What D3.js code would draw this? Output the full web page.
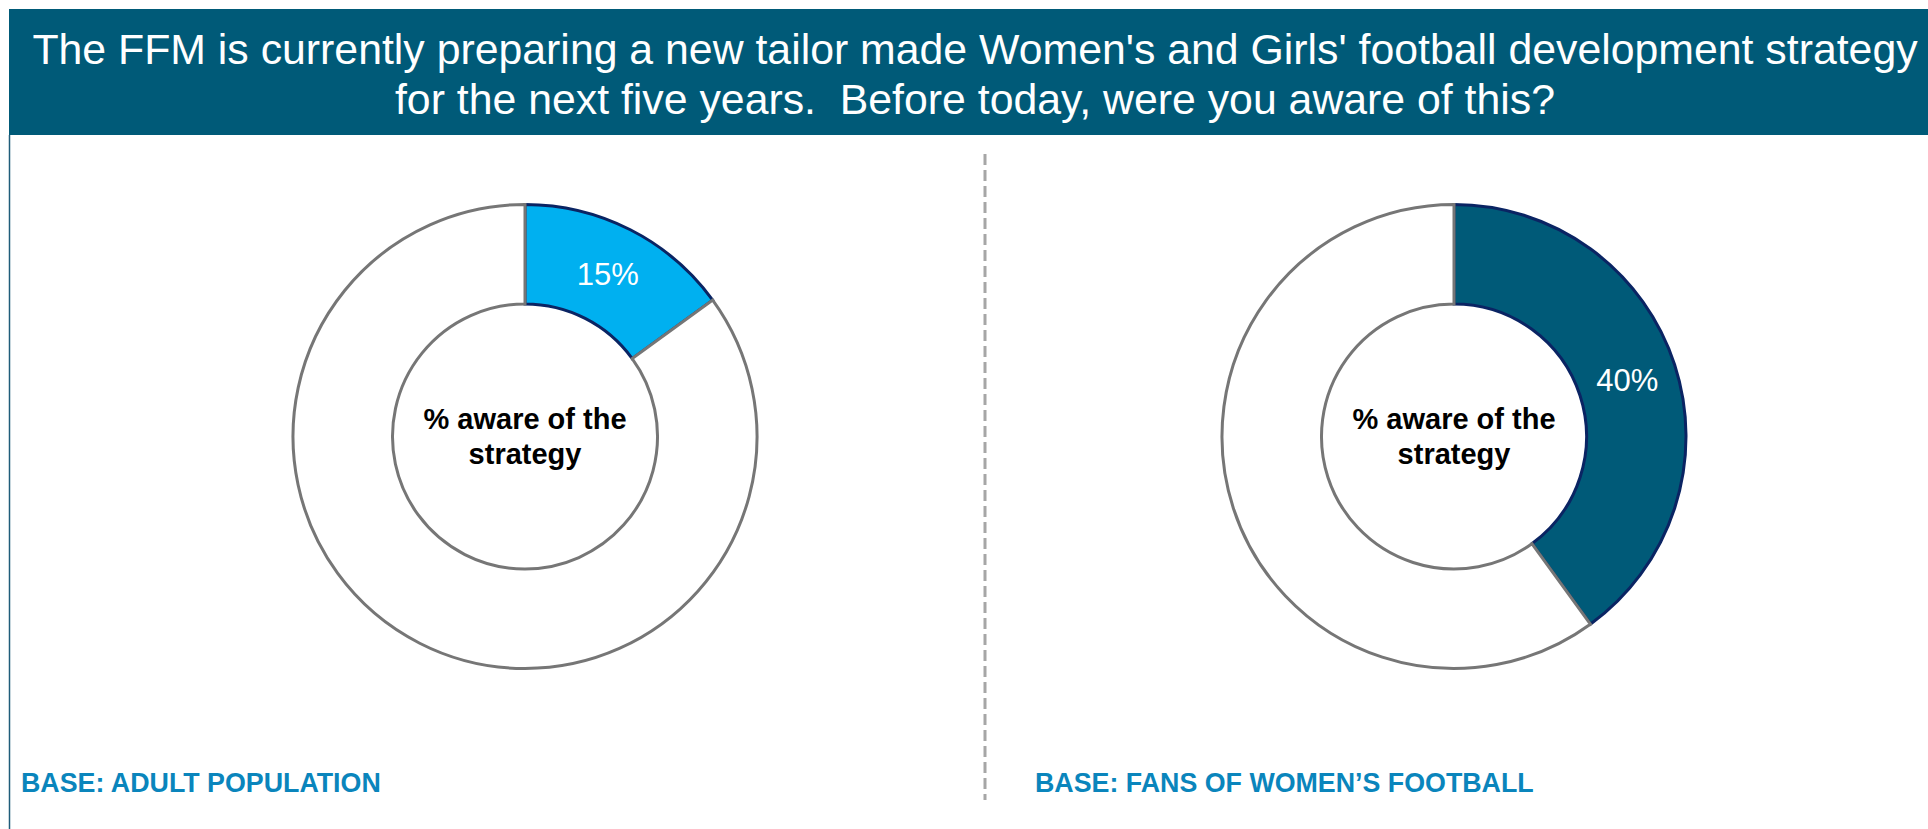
<!DOCTYPE html>
<html>
<head>
<meta charset="utf-8">
<script src="https://cdn.jsdelivr.net/npm/d3@7"></script>
<style>
  html, body { margin: 0; padding: 0; background: #ffffff; }
  svg { display: block; }
  text { font-family: "Liberation Sans", Arial, sans-serif; white-space: pre; }
</style>
</head>
<body>
<svg id="chart" width="1928" height="829"></svg>
<script>
// ---- data ----
const titleLines = [
  "The FFM is currently preparing a new tailor made Women's and Girls' football development strategy",
  "for the next five years.  Before today, were you aware of this?"
];
const panels = ["Adult population", "Fans of women's football"];
const awareValues = [15, 40];
const baseLabels = ["BASE: ADULT POPULATION", "BASE: FANS OF WOMEN\u2019S FOOTBALL"];
const centerLabel = ["% aware of the", "strategy"];
const sliceColors = ["#00B0F0", "#005A78"];

// ---- layout ----
const W = 1928, H = 829;
const svg = d3.select("#chart");
const headerColor = "#005A78";

svg.append("rect").attr("x", 9).attr("y", 9).attr("width", W - 9).attr("height", 126)
  .attr("fill", headerColor);
svg.append("line").attr("x1", 9.5).attr("x2", 9.5).attr("y1", 135).attr("y2", H)
  .attr("stroke", "#1F5C7A").attr("stroke-width", 1.5);

svg.selectAll("text.title").data(titleLines).join("text")
  .attr("class", "title")
  .attr("x", 975).attr("y", (d, i) => 64 + i * 50)
  .attr("text-anchor", "middle").attr("fill", "#ffffff")
  .attr("font-size", 42.8).attr("xml:space", "preserve").text(d => d);

// divider
svg.append("line").attr("x1", 985).attr("x2", 985).attr("y1", 154).attr("y2", 800)
  .attr("stroke", "#A6A6A6").attr("stroke-width", 3).attr("stroke-dasharray", "11,5");

const xCenter = d3.scaleOrdinal().domain(panels).range([525, 1454]);
const cy = 436.5;
const rOuter = 232, rInner = 132.5;
const pie = d3.pie().sort(null).value(d => d.v);
const arc = d3.arc().innerRadius(rInner).outerRadius(rOuter);
const labelArc = d3.arc().innerRadius(rInner).outerRadius(rOuter);

panels.forEach((p, i) => {
  const g = svg.append("g").attr("transform", `translate(${xCenter(p)},${cy})`);
  const data = [{k: "aware", v: awareValues[i]}, {k: "rest", v: 100 - awareValues[i]}];
  const arcs = pie(data);
  // highlighted slice first, then grey slice on top so shared edges are grey
  g.append("path").attr("d", arc(arcs[0]))
    .attr("fill", sliceColors[i]).attr("stroke", "#0A2463").attr("stroke-width", 3);
  g.append("path").attr("d", arc(arcs[1]))
    .attr("fill", "#ffffff").attr("stroke", "#767676").attr("stroke-width", 3)
    .attr("stroke-linejoin", "miter");
  const c = labelArc.centroid(arcs[0]);
  g.append("text").attr("x", c[0]).attr("y", c[1]).attr("dy", "0.36em")
    .attr("text-anchor", "middle").attr("fill", "#ffffff").attr("font-size", 31)
    .text(awareValues[i] + "%");
  g.selectAll("text.center").data(centerLabel).join("text")
    .attr("class", "center")
    .attr("x", 0).attr("y", (d, j) => -7.5 + j * 35)
    .attr("text-anchor", "middle").attr("fill", "#000000")
    .attr("font-size", 29).attr("font-weight", "bold").text(d => d);
});

svg.selectAll("text.base").data(baseLabels).join("text")
  .attr("class", "base")
  .attr("x", (d, i) => [21, 1035][i]).attr("y", 792)
  .attr("fill", "#0A85BC").attr("font-size", 26.8).attr("font-weight", "bold")
  .text(d => d);
</script>
</body>
</html>
